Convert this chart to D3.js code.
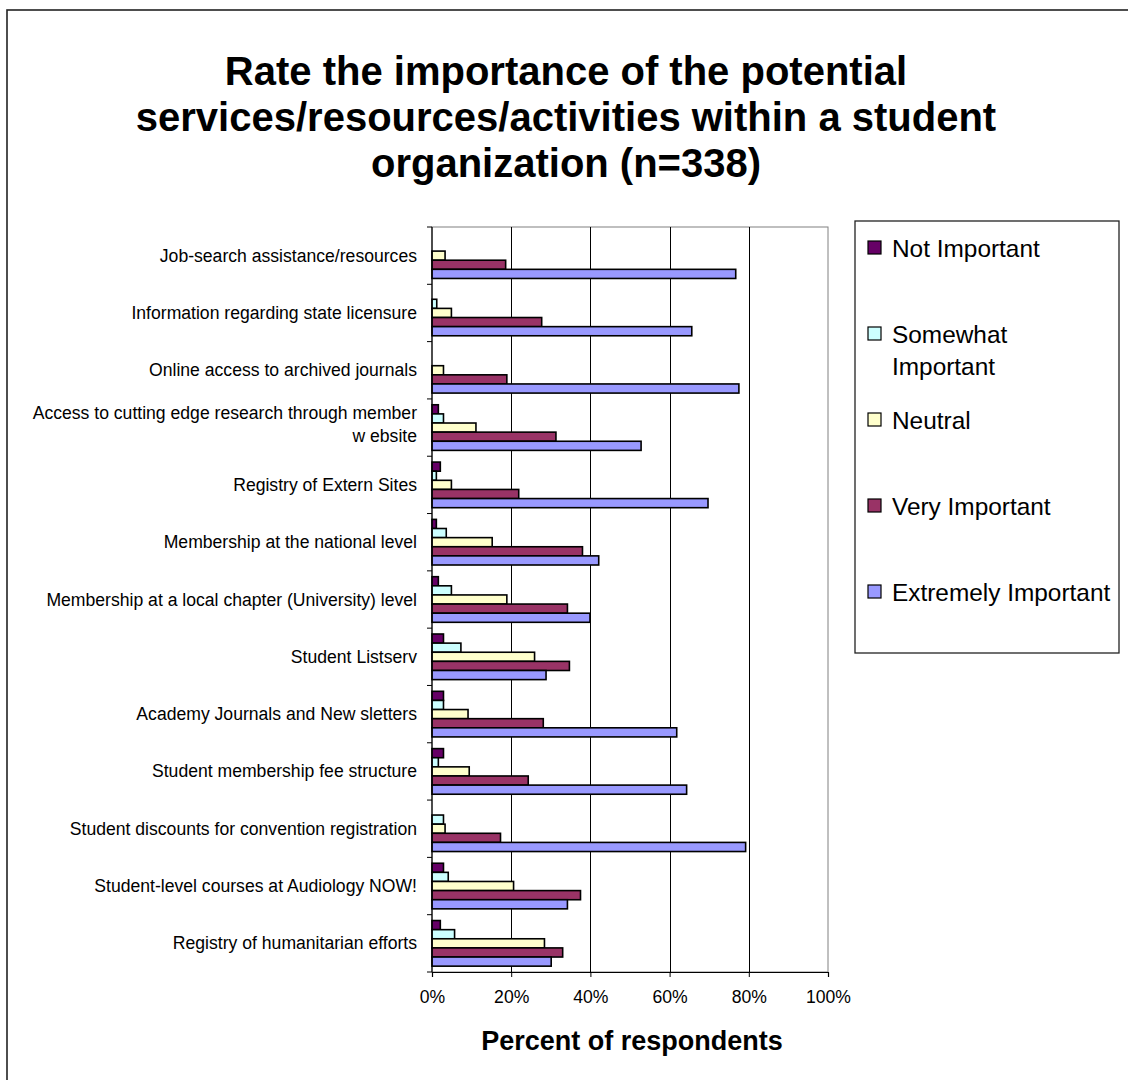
<!DOCTYPE html>
<html>
<head>
<meta charset="utf-8">
<script src="https://cdn.jsdelivr.net/npm/d3@7"></script>
<style>
  html, body { margin: 0; padding: 0; background: #fff; }
  svg { display: block; font-family: "Liberation Sans", Arial, sans-serif; }
</style>
</head>
<body>
<svg id="chart" width="1128" height="1080"></svg>
<script>
// ---- data ----
const categories = [
  "Job-search assistance/resources",
  "Information regarding state licensure",
  "Online access to archived journals",
  "Access to cutting edge research through member\nw ebsite",
  "Registry of Extern Sites",
  "Membership at the national level",
  "Membership at a local chapter (University) level",
  "Student Listserv",
  "Academy Journals and New sletters",
  "Student membership fee structure",
  "Student discounts for convention registration",
  "Student-level courses at Audiology NOW!",
  "Registry of humanitarian efforts"
];
const seriesNames = ["Not Important", "Somewhat Important", "Neutral", "Very Important", "Extremely Important"];
const legendLines = [["Not Important"], ["Somewhat", "Important"], ["Neutral"], ["Very Important"], ["Extremely Important"]];
const notImportant       = [0, 0, 0, 1.6, 2.1, 1.1, 1.6, 2.9, 2.9, 2.9, 0, 2.9, 2.1];
const somewhatImportant  = [0, 1.2, 0, 2.9, 1.1, 3.6, 4.9, 7.3, 2.9, 1.6, 2.9, 4.1, 5.7];
const neutral            = [3.3, 4.9, 2.9, 11.1, 4.9, 15.2, 18.9, 25.9, 9.1, 9.4, 3.3, 20.6, 28.4];
const veryImportant      = [18.6, 27.7, 18.9, 31.3, 21.9, 38.0, 34.2, 34.7, 28.1, 24.3, 17.3, 37.5, 33.0];
const extremelyImportant = [76.7, 65.6, 77.5, 52.8, 69.7, 42.1, 39.9, 28.8, 61.8, 64.3, 79.2, 34.2, 30.1];
const xTicks = [0, 20, 40, 60, 80, 100];
const titleLines = ["Rate the importance of the potential", "services/resources/activities within a student", "organization (n=338)"];
const xAxisTitle = "Percent of respondents";

const seriesValues = [notImportant, somewhatImportant, neutral, veryImportant, extremelyImportant];
const colors = ["#660066", "#CCFFFF", "#FFFFCC", "#993366", "#9999FF"];

// ---- layout ----
const svg = d3.select("#chart");
const plot = { left: 432, right: 828, top: 227, bottom: 972 };

// outer frame
svg.append("rect").attr("x", 7).attr("y", 10).attr("width", 1140).attr("height", 1100)
  .attr("fill", "none").attr("stroke", "#222").attr("stroke-width", 1.6);

// title
svg.append("text").attr("text-anchor", "middle").attr("font-weight", "bold").attr("font-size", 40)
  .attr("fill", "#000")
  .selectAll("tspan").data(titleLines).join("tspan")
  .attr("x", 566).attr("y", (d, i) => 85 + i * 46).text(d => d);

const x = d3.scaleLinear().domain([0, 100]).range([plot.left, plot.right]);
const y = d3.scaleBand().domain(categories).range([plot.top, plot.bottom]).paddingInner(0.204).paddingOuter(0.102);
const ySub = d3.scaleBand().domain(seriesNames).range([0, y.bandwidth()]).padding(0);

// plot border (gray)
svg.append("rect").attr("x", plot.left).attr("y", plot.top)
  .attr("width", plot.right - plot.left).attr("height", plot.bottom - plot.top)
  .attr("fill", "#fff").attr("stroke", "#808080").attr("stroke-width", 1);

// gridlines
svg.append("g").selectAll("line").data(xTicks.filter(t => t > 0 && t < 100)).join("line")
  .attr("x1", d => Math.round(x(d)) + 0.5).attr("x2", d => Math.round(x(d)) + 0.5)
  .attr("y1", plot.top).attr("y2", plot.bottom)
  .attr("stroke", "#000").attr("stroke-width", 1);

// bars
const groups = svg.append("g").selectAll("g").data(categories).join("g")
  .attr("transform", d => `translate(0,${y(d)})`);
groups.selectAll("rect")
  .data((c, ci) => seriesNames.map((s, si) => ({ s, si, v: seriesValues[si][ci] })).filter(d => d.v > 0))
  .join("rect")
  .attr("x", x(0))
  .attr("y", d => ySub(d.s))
  .attr("width", d => x(d.v) - x(0))
  .attr("height", ySub.bandwidth())
  .attr("fill", d => colors[d.si])
  .attr("stroke", "#000").attr("stroke-width", 1.6);

// y axis
const yAxisG = svg.append("g").attr("transform", `translate(${plot.left},0)`);
const boundaries = d3.range(categories.length + 1).map(i => plot.top + i * (plot.bottom - plot.top) / categories.length);
yAxisG.append("line").attr("x1", 0).attr("x2", 0).attr("y1", plot.top).attr("y2", plot.bottom)
  .attr("stroke", "#000").attr("stroke-width", 1.2);
yAxisG.selectAll("line.tick").data(boundaries).join("line").attr("class", "tick")
  .attr("x1", -5).attr("x2", 0).attr("y1", d => d).attr("y2", d => d)
  .attr("stroke", "#000").attr("stroke-width", 1);
const catLabels = svg.append("g").attr("font-size", 17.6).attr("fill", "#000").attr("text-anchor", "end");
categories.forEach(c => {
  const lines = c.split("\n");
  const cy = y(c) + y.bandwidth() / 2;
  const lh = 23;
  const t = catLabels.append("text");
  lines.forEach((ln, i) => {
    t.append("tspan").attr("x", 417)
      .attr("y", cy + 6 + (i - (lines.length - 1) / 2) * lh - (lines.length > 1 ? 3 : 0))
      .text(ln);
  });
});

// x axis
const xAxis = d3.axisBottom(x).tickValues(xTicks).tickFormat(d => d + "%").tickSize(5).tickPadding(14);
const xAxisG = svg.append("g").attr("transform", `translate(0,${plot.bottom})`).call(xAxis);
xAxisG.select(".domain").attr("stroke", "#000").attr("stroke-width", 1.2);
xAxisG.selectAll(".tick line").attr("stroke", "#000");
xAxisG.selectAll(".tick text").attr("font-size", 17.6).attr("fill", "#000")
  .attr("font-family", "Liberation Sans, Arial, sans-serif");

svg.append("text").attr("x", 632).attr("y", 1050).attr("text-anchor", "middle")
  .attr("font-weight", "bold").attr("font-size", 27).attr("fill", "#000").text(xAxisTitle);

// legend
const lg = svg.append("g");
lg.append("rect").attr("x", 855).attr("y", 221).attr("width", 264).attr("height", 432)
  .attr("fill", "#fff").attr("stroke", "#222").attr("stroke-width", 1.3);
legendLines.forEach((lines, i) => {
  const cy = 248 + i * 86;
  lg.append("rect").attr("x", 868).attr("y", cy - 7).attr("width", 13).attr("height", 13)
    .attr("fill", colors[i]).attr("stroke", "#000").attr("stroke-width", 1.2);
  const t = lg.append("text").attr("font-size", 24.4).attr("fill", "#000");
  lines.forEach((ln, j) => {
    t.append("tspan").attr("x", 892).attr("y", cy + 9 + j * 32).text(ln);
  });
});
</script>
</body>
</html>
